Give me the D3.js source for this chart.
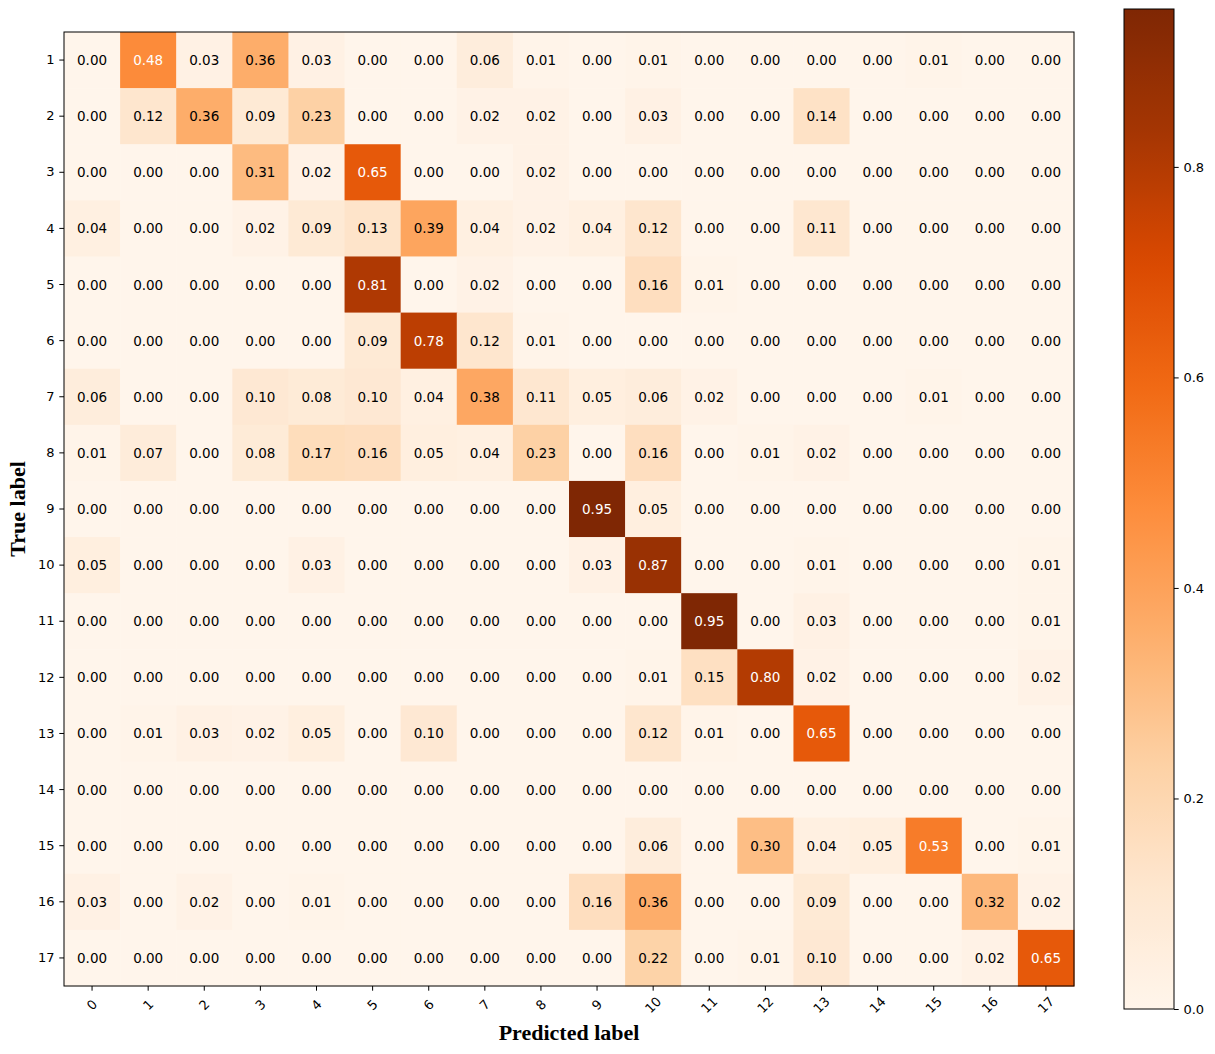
<!DOCTYPE html>
<html>
<head>
<meta charset="utf-8">
<script src="https://cdn.jsdelivr.net/npm/d3@7"></script>
<style>
body { margin: 0; background: #fff; }
text { font-family: "DejaVu Sans", sans-serif; }
.axtitle { font-family: "Liberation Serif", "Times New Roman", serif; font-weight: bold; font-size: 22px; }
</style>
</head>
<body>
<script>
var width = 1215, height = 1054;

// predicted classes (columns) and true classes (rows)
var predLabels = ["0","1","2","3","4","5","6","7","8","9","10","11","12","13","14","15","16","17"];
var trueLabels = ["1","2","3","4","5","6","7","8","9","10","11","12","13","14","15","16","17"];

// normalised confusion matrix, one row per true label
var row1  = [0.00,0.48,0.03,0.36,0.03,0.00,0.00,0.06,0.01,0.00,0.01,0.00,0.00,0.00,0.00,0.01,0.00,0.00];
var row2  = [0.00,0.12,0.36,0.09,0.23,0.00,0.00,0.02,0.02,0.00,0.03,0.00,0.00,0.14,0.00,0.00,0.00,0.00];
var row3  = [0.00,0.00,0.00,0.31,0.02,0.65,0.00,0.00,0.02,0.00,0.00,0.00,0.00,0.00,0.00,0.00,0.00,0.00];
var row4  = [0.04,0.00,0.00,0.02,0.09,0.13,0.39,0.04,0.02,0.04,0.12,0.00,0.00,0.11,0.00,0.00,0.00,0.00];
var row5  = [0.00,0.00,0.00,0.00,0.00,0.81,0.00,0.02,0.00,0.00,0.16,0.01,0.00,0.00,0.00,0.00,0.00,0.00];
var row6  = [0.00,0.00,0.00,0.00,0.00,0.09,0.78,0.12,0.01,0.00,0.00,0.00,0.00,0.00,0.00,0.00,0.00,0.00];
var row7  = [0.06,0.00,0.00,0.10,0.08,0.10,0.04,0.38,0.11,0.05,0.06,0.02,0.00,0.00,0.00,0.01,0.00,0.00];
var row8  = [0.01,0.07,0.00,0.08,0.17,0.16,0.05,0.04,0.23,0.00,0.16,0.00,0.01,0.02,0.00,0.00,0.00,0.00];
var row9  = [0.00,0.00,0.00,0.00,0.00,0.00,0.00,0.00,0.00,0.95,0.05,0.00,0.00,0.00,0.00,0.00,0.00,0.00];
var row10 = [0.05,0.00,0.00,0.00,0.03,0.00,0.00,0.00,0.00,0.03,0.87,0.00,0.00,0.01,0.00,0.00,0.00,0.01];
var row11 = [0.00,0.00,0.00,0.00,0.00,0.00,0.00,0.00,0.00,0.00,0.00,0.95,0.00,0.03,0.00,0.00,0.00,0.01];
var row12 = [0.00,0.00,0.00,0.00,0.00,0.00,0.00,0.00,0.00,0.00,0.01,0.15,0.80,0.02,0.00,0.00,0.00,0.02];
var row13 = [0.00,0.01,0.03,0.02,0.05,0.00,0.10,0.00,0.00,0.00,0.12,0.01,0.00,0.65,0.00,0.00,0.00,0.00];
var row14 = [0.00,0.00,0.00,0.00,0.00,0.00,0.00,0.00,0.00,0.00,0.00,0.00,0.00,0.00,0.00,0.00,0.00,0.00];
var row15 = [0.00,0.00,0.00,0.00,0.00,0.00,0.00,0.00,0.00,0.00,0.06,0.00,0.30,0.04,0.05,0.53,0.00,0.01];
var row16 = [0.03,0.00,0.02,0.00,0.01,0.00,0.00,0.00,0.00,0.16,0.36,0.00,0.00,0.09,0.00,0.00,0.32,0.02];
var row17 = [0.00,0.00,0.00,0.00,0.00,0.00,0.00,0.00,0.00,0.00,0.22,0.00,0.01,0.10,0.00,0.00,0.02,0.65];

var colorbarTicks = [0.0, 0.2, 0.4, 0.6, 0.8];

var matrix = [row1,row2,row3,row4,row5,row6,row7,row8,row9,row10,row11,row12,row13,row14,row15,row16,row17];

var cells = [];
matrix.forEach(function(r, i) {
	r.forEach(function(v, j) {
		cells.push({row: trueLabels[i], col: predLabels[j], v: v});
	});
});

var vmax = d3.max(cells, function(d) { return d.v; });

// matplotlib "Oranges" = linear segments through these brewer colours
var oranges = ["#fff5eb","#fee6ce","#fdd0a2","#fdae6b","#fd8d3c","#f16913","#d94801","#a63603","#7f2704"];
var color = d3.scaleLinear()
	.domain(oranges.map(function(c, i) { return i/(oranges.length-1)*vmax; }))
	.range(oranges).clamp(true);

var plotLeft = 64, plotRight = 1074, plotTop = 32, plotBottom = 986;

var x = d3.scaleBand().domain(predLabels).range([plotLeft, plotRight]);
var y = d3.scaleBand().domain(trueLabels).range([plotTop, plotBottom]);

var svg = d3.select("body").append("svg").attr("width", width).attr("height", height);

svg.append("g").selectAll("rect").data(cells).enter().append("rect")
	.attr("x", function(d) { return x(d.col); })
	.attr("y", function(d) { return y(d.row); })
	.attr("width", x.bandwidth() + 0.5)
	.attr("height", y.bandwidth() + 0.5)
	.attr("fill", function(d) { return color(d.v); });

svg.append("g").selectAll("text").data(cells).enter().append("text")
	.attr("x", function(d) { return x(d.col) + x.bandwidth()/2; })
	.attr("y", function(d) { return y(d.row) + y.bandwidth()/2; })
	.attr("text-anchor", "middle")
	.attr("dominant-baseline", "central")
	.style("font-size", "13.5px")
	.attr("fill", function(d) { return d.v > vmax/2 ? "#fff" : "#000"; })
	.text(function(d) { return d.v.toFixed(2); });

// frame
svg.append("rect").attr("x", plotLeft).attr("y", plotTop)
	.attr("width", plotRight-plotLeft).attr("height", plotBottom-plotTop)
	.attr("fill", "none").attr("stroke", "#000").attr("stroke-width", 1);

// axes
var xAxis = svg.append("g").attr("transform", "translate(0," + plotBottom + ")")
	.call(d3.axisBottom(x).tickSizeOuter(0).tickSize(4.7).tickPadding(3.5));
xAxis.select(".domain").remove();
xAxis.selectAll("text")
	.style("font-size", "13px")
	.attr("text-anchor", "middle")
	.attr("dy", null)
	.attr("y", 0)
	.attr("dominant-baseline", "central")
	.attr("transform", "translate(0,19) rotate(-45)");

var yAxis = svg.append("g").attr("transform", "translate(" + plotLeft + ",0)")
	.call(d3.axisLeft(y).tickSizeOuter(0).tickSize(4.7).tickPadding(4.7));
yAxis.select(".domain").remove();
yAxis.selectAll("text").style("font-size", "13px");

svg.append("text").attr("class", "axtitle")
	.attr("x", (plotLeft+plotRight)/2).attr("y", 1040)
	.attr("text-anchor", "middle").text("Predicted label");
svg.append("text").attr("class", "axtitle")
	.attr("transform", "translate(25," + ((plotTop+plotBottom)/2) + ") rotate(-90)")
	.attr("text-anchor", "middle").text("True label");

// colorbar
var cbX = 1124, cbW = 50, cbTop = 9, cbBottom = 1009;
var cbScale = d3.scaleLinear().domain([0, vmax]).range([cbBottom, cbTop]);

var defs = svg.append("defs");
var grad = defs.append("linearGradient").attr("id", "cbgrad")
	.attr("x1", 0).attr("y1", 1).attr("x2", 0).attr("y2", 0);
grad.selectAll("stop").data(d3.range(0, 1.0001, 0.02)).enter().append("stop")
	.attr("offset", function(d) { return d; })
	.attr("stop-color", function(d) { return color(d*vmax); });

svg.append("rect").attr("x", cbX).attr("y", cbTop)
	.attr("width", cbW).attr("height", cbBottom-cbTop)
	.attr("fill", "url(#cbgrad)").attr("stroke", "#000").attr("stroke-width", 1);

var cbAxis = svg.append("g").attr("transform", "translate(" + (cbX+cbW) + ",0)")
	.call(d3.axisRight(cbScale).tickValues(colorbarTicks).tickFormat(d3.format(".1f"))
		.tickSizeOuter(0).tickSize(4.7).tickPadding(4.7));
cbAxis.select(".domain").remove();
cbAxis.selectAll("text").style("font-size", "13px");

svg.selectAll(".tick line").attr("stroke", "#000");
svg.selectAll(".tick text").attr("fill", "#000").style("font-family", "DejaVu Sans, sans-serif");
</script>
</body>
</html>
